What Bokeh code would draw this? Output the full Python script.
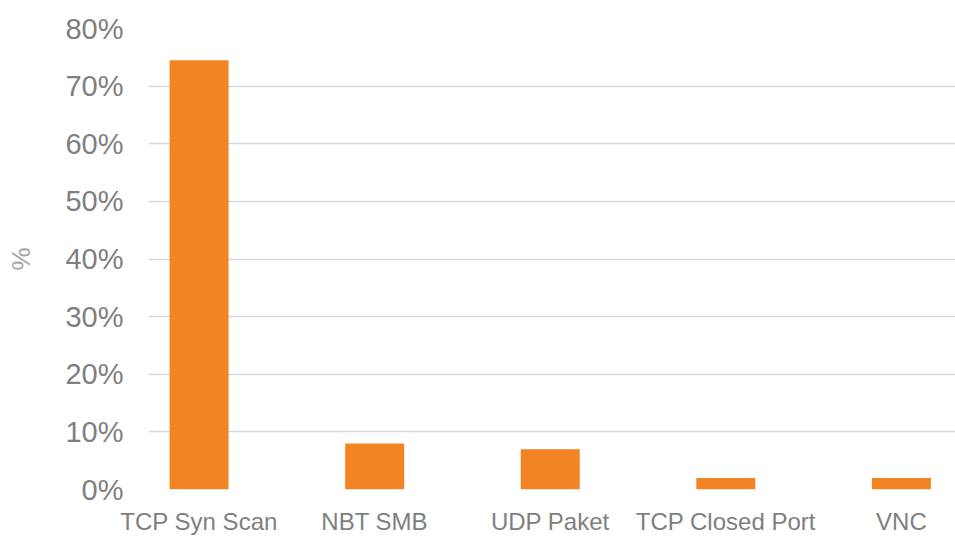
from bokeh.plotting import figure
from bokeh.models import Range1d, FixedTicker
from bokeh.embed import file_html
from bokeh.resources import INLINE

# Share of scan types (%)
categories = ["TCP Syn Scan", "NBT SMB", "UDP Paket", "TCP Closed Port", "VNC"]
shares = [74.5, 8.0, 7.0, 2.0, 2.0]
y_ticks = [0, 10, 20, 30, 40, 50, 60, 70, 80]

positions = list(range(len(categories)))

p = figure(
    width=955, height=537,
    output_backend="svg", toolbar_location=None,
    x_range=Range1d(-0.288, 4.308),
    y_range=Range1d(0, 80),
    min_border_left=148, min_border_right=0,
    min_border_top=28, min_border_bottom=48,
)
p.outline_line_color = None
p.background_fill_color = "white"
p.border_fill_color = "white"

p.vbar(x=positions, top=shares, width=0.336, color="#F38423", line_color=None)

FONT = "Liberation Sans"
GREY = "#7F7F7F"

# y axis: percentage ticks with light gridlines
p.yaxis.ticker = FixedTicker(ticks=y_ticks)
p.yaxis.major_label_overrides = {t: f"{t}%" for t in y_ticks}
p.yaxis.major_label_text_font = FONT
p.yaxis.major_label_text_font_size = "29px"
p.yaxis.major_label_text_color = GREY
p.yaxis.major_label_standoff = 19
p.yaxis.axis_line_color = None
p.yaxis.major_tick_line_color = None
p.yaxis.minor_tick_line_color = None
p.yaxis.axis_label = "%"
p.yaxis.axis_label_text_font = FONT
p.yaxis.axis_label_text_font_size = "26px"
p.yaxis.axis_label_text_font_style = "normal"
p.yaxis.axis_label_text_color = "#A6A6A6"
p.yaxis.axis_label_standoff = 26

p.ygrid.ticker = FixedTicker(ticks=y_ticks)
p.ygrid.grid_line_color = "#D9D9D9"
p.ygrid.grid_line_width = 1.5
p.xgrid.grid_line_color = None

# x axis: category names under each bar
p.xaxis.ticker = FixedTicker(ticks=positions)
p.xaxis.major_label_overrides = {i: c for i, c in enumerate(categories)}
p.xaxis.major_label_text_font = FONT
p.xaxis.major_label_text_font_size = "24px"
p.xaxis.major_label_text_color = GREY
p.xaxis.major_label_standoff = 12
p.xaxis.axis_line_color = None
p.xaxis.major_tick_line_color = None
p.xaxis.minor_tick_line_color = None

open("out.html", "w").write(file_html(p, INLINE))
